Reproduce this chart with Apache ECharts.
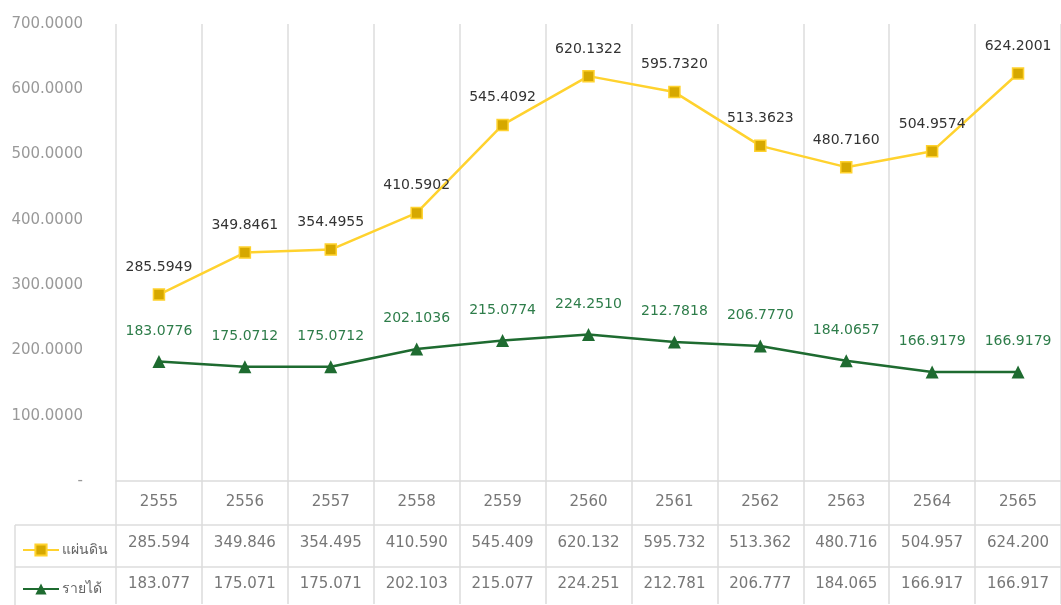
<!DOCTYPE html>
<html lang="th">
<head>
    <meta charset="UTF-8">
    <title>แผ่นดิน / รายได้</title>
    <script src="https://cdn.jsdelivr.net/npm/echarts@6/dist/echarts.min.js"></script>
    <style>
        html, body { margin: 0; padding: 0; background: #fff; }
        #main { width: 1061px; height: 605px; }
    </style>
</head>
<body>
<div id="main"></div>
<script>
    // ปีงบประมาณ
    var years = ['2555', '2556', '2557', '2558', '2559', '2560', '2561', '2562', '2563', '2564', '2565'];
    // แผ่นดิน
    var landValues = [285.5949, 349.8461, 354.4955, 410.5902, 545.4092, 620.1322, 595.7320, 513.3623, 480.7160, 504.9574, 624.2001];
    // รายได้
    var incomeValues = [183.0776, 175.0712, 175.0712, 202.1036, 215.0774, 224.2510, 212.7818, 206.7770, 184.0657, 166.9179, 166.9179];
    var yTicks = [0, 100, 200, 300, 400, 500, 600, 700];

    var gridColor = '#dcdcdc';
    var font = 'DejaVu Sans, Noto Sans, sans-serif';

    // ตัวเลขในตาราง ตัดทศนิยมเหลือ 3 ตำแหน่ง
    function cut3(v) {
        return (Math.floor(v * 1000) / 1000).toFixed(3);
    }

    var option = {
        animation: false,
        textStyle: {fontFamily: font},
        grid: {left: 116, right: 0, top: 24, bottom: 123},
        legend: {
            orient: 'vertical',
            left: 17,
            top: 538,
            itemWidth: 36,
            itemHeight: 14,
            itemGap: 25,
            textStyle: {color: '#666', fontSize: 14, fontFamily: font, padding: [0, 0, 0, -2]},
            data: ['แผ่นดิน', 'รายได้']
        },
        xAxis: {
            type: 'category',
            data: years,
            boundaryGap: true,
            axisLine: {lineStyle: {color: gridColor, width: 1.5}},
            axisTick: {show: true, length: 123, lineStyle: {color: gridColor, width: 1.5}},
            splitLine: {show: true, lineStyle: {color: gridColor, width: 1.5}},
            axisLabel: {
                margin: 1,
                interval: 0,
                formatter: function (v, i) {
                    return v + '\n' + cut3(landValues[i]) + '\n' + cut3(incomeValues[i]);
                },
                color: '#777',
                fontSize: 15,
                lineHeight: 41
            }
        },
        yAxis: {
            type: 'value',
            min: yTicks[0],
            max: yTicks[yTicks.length - 1],
            interval: 100,
            axisLine: {show: false},
            axisTick: {show: false},
            splitLine: {show: false},
            axisLabel: {
                margin: 33,
                color: '#999',
                fontSize: 15,
                formatter: function (v) {
                    return v === 0 ? '-' : v.toFixed(4);
                }
            }
        },
        graphic: [
            {type: 'line', shape: {x1: 15, y1: 525, x2: 1061, y2: 525}, style: {stroke: gridColor, lineWidth: 1.5}},
            {type: 'line', shape: {x1: 15, y1: 567, x2: 1061, y2: 567}, style: {stroke: gridColor, lineWidth: 1.5}},
            {type: 'line', shape: {x1: 15, y1: 525, x2: 15, y2: 605}, style: {stroke: gridColor, lineWidth: 1.5}}
        ],
        series: [
            {
                name: 'แผ่นดิน',
                type: 'line',
                data: landValues,
                symbol: 'rect',
                symbolSize: 11,
                lineStyle: {color: '#FFD22E', width: 2.5},
                itemStyle: {color: '#D6A800', borderColor: '#FFD22E', borderWidth: 1.5},
                label: {
                    show: true,
                    position: 'top',
                    distance: 14,
                    color: '#333',
                    fontSize: 14,
                    formatter: function (p) { return p.value.toFixed(4); }
                }
            },
            {
                name: 'รายได้',
                type: 'line',
                data: incomeValues,
                symbol: 'triangle',
                symbolSize: 13,
                lineStyle: {color: '#1E6B30', width: 2.5},
                itemStyle: {color: '#1E6B30'},
                label: {
                    show: true,
                    position: 'top',
                    distance: 17,
                    color: '#2E7D4A',
                    fontSize: 14,
                    formatter: function (p) { return p.value.toFixed(4); }
                }
            }
        ]
    };

    var myChart = echarts.init(document.getElementById('main'));
    myChart.setOption(option);
    window.onresize = function () {
        myChart.resize();
    };
</script>
</body>
</html>
